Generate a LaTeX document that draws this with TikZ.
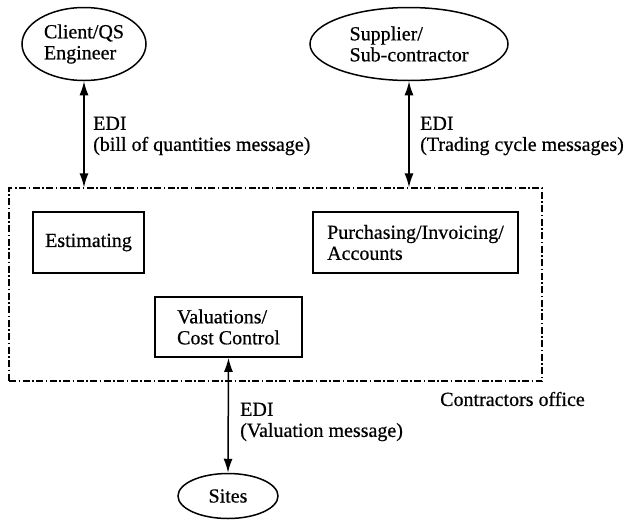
\documentclass[tikz,border=0pt]{standalone}
\usepackage{fontspec}
\setmainfont[FakeBold=0.6]{Liberation Serif}
\usetikzlibrary{arrows.meta,shapes.geometric}
\begin{document}
\begin{tikzpicture}[x=1pt,y=-1pt,
  every node/.style={font=\fontsize{20}{21}\selectfont},
  party/.style={draw,ellipse,line width=1.5pt,inner sep=0pt,align=left},
  unit/.style={draw,rectangle,line width=1.6pt,inner sep=0pt,align=left},
  link/.style={line width=1.5pt,{Latex[length=14pt,width=9pt]}-{Latex[length=14pt,width=9pt]}},
  officeline/.style={draw,line width=1.2pt,dash pattern=on 7pt off 2.5pt on 1.5pt off 2.5pt},
  note/.style={anchor=west,align=left,inner sep=0pt}]
\useasboundingbox (0,0) rectangle (626,520);

% outside parties
\node[party,minimum width=124pt,minimum height=73pt] (client) at (84,44) {Client/QS\\Engineer};
\node[party,minimum width=198pt,minimum height=73pt] (supplier) at (409,44) {Supplier/\\Sub-contractor};
\node[party,minimum width=100pt,minimum height=45pt] (sites) at (228,496) {Sites};

% contractors office boundary
\node[officeline,minimum width=533pt,minimum height=193pt,inner sep=0pt] (office) at (275.5,284.5) {};
\node[anchor=west,inner sep=0pt] (officelabel) at (440,399) {Contractors office};

% departments inside the office
\node[unit,minimum width=111pt,minimum height=61pt] (estimating) at (88.5,242.5) {Estimating};
\node[unit,minimum width=205pt,minimum height=61pt] (purchasing) at (415.5,242.5) {Purchasing/Invoicing/\\Accounts};
\node[unit,minimum width=147pt,minimum height=60pt] (valuations) at (228.5,327) {Valuations/\\Cost Control};

% EDI links
\draw[link] (client.south) -- (client.south |- office.north);
\draw[link] (supplier.south) -- (supplier.south |- office.north);
\draw[link] (valuations.south) -- (sites.north);

\node[note] (edi1) at (93,136) {EDI\\(bill of quantities message)};
\node[note] (edi2) at (420,136) {EDI\\(Trading cycle messages)};
\node[note] (edi3) at (240,422) {EDI\\(Valuation message)};
\end{tikzpicture}
\end{document}
